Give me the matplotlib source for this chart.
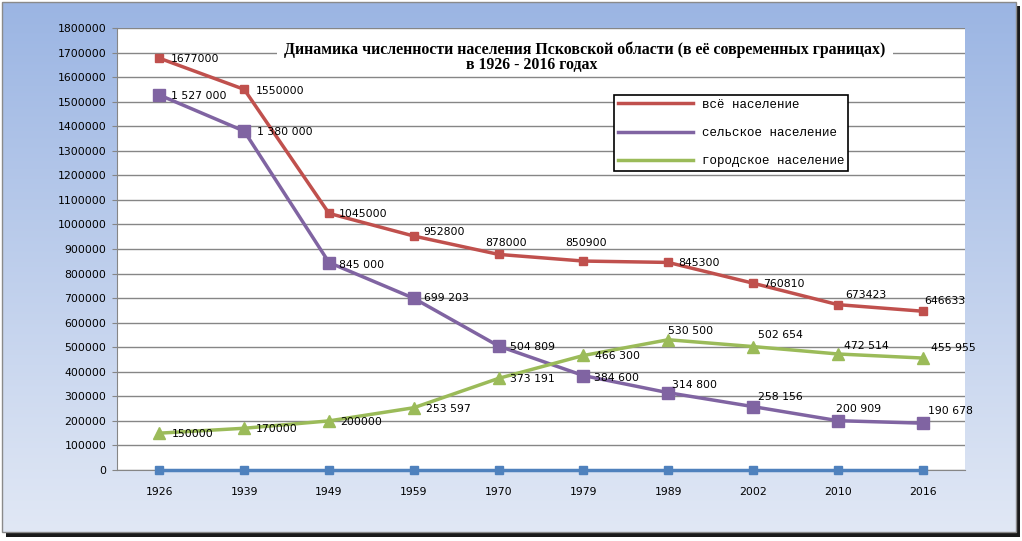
import matplotlib
matplotlib.use("Agg")
import matplotlib.pyplot as plt
import numpy as np
from matplotlib.patches import Rectangle

years = ["1926", "1939", "1949", "1959", "1970", "1979", "1989", "2002", "2010", "2016"]
total = [1677000, 1550000, 1045000, 952800, 878000, 850900, 845300, 760810, 673423, 646633]
rural = [1527000, 1380000, 845000, 699203, 504809, 384600, 314800, 258156, 200909, 190678]
urban = [150000, 170000, 200000, 253597, 373191, 466300, 530500, 502654, 472514, 455955]
zero_series = [0, 0, 0, 0, 0, 0, 0, 0, 0, 0]

total_labels = ["1677000", "1550000", "1045000", "952800", "878000", "850900", "845300", "760810", "673423", "646633"]
rural_labels = ["1 527 000", "1 380 000", "845 000", "699 203", "504 809", "384 600", "314 800", "258 156", "200 909", "190 678"]
urban_labels = ["150000", "170000", "200000", "253 597", "373 191", "466 300", "530 500", "502 654", "472 514", "455 955"]

legend_names = ["всё население", "сельское население", "городское население"]
title1 = "Динамика численности населения Псковской области (в её современных границах)"
title2 = "в 1926 - 2016 годах"

# label offsets (pixels) - layout only
total_off = [(11, -1), (12, -2), (10, -1), (10, 4), (-13, 11), (-18, 18), (10, -1), (10, -1), (7, 10), (2, 10)]
rural_off = [(12, -1), (13, -1), (10, -2), (10, 0), (11, -1), (11, -2), (4, 8), (5, 10), (-2, 12), (5, 12)]
urban_off = [(12, -1), (12, -1), (11, -1), (12, -1), (11, -1), (12, -1), (0, 9), (5, 12), (6, 8), (8, 10)]

W, H = 1022, 541
fig = plt.figure(figsize=(W / 100, H / 100), dpi=100)
fig.patch.set_facecolor("white")

# background frame with gradient
bg = fig.add_axes([0, 0, 1, 1], zorder=0)
bg.set_xlim(0, W)
bg.set_ylim(H, 0)
bg.axis("off")
bg.add_patch(Rectangle((6, 6), 1014, 531, facecolor="#1a1a1a", edgecolor="none"))
grad = np.linspace(0, 1, 256).reshape(-1, 1)
top = np.array([0x9b, 0xb5, 0xe3]) / 255
bot = np.array([0xe1, 0xe8, 0xf5]) / 255
img = top[None, None, :] * (1 - grad[:, :, None]) + bot[None, None, :] * grad[:, :, None]
bg.imshow(img, extent=[2, 1016, 532, 2], aspect="auto", zorder=1)
bg.add_patch(Rectangle((2, 2), 1014, 530, facecolor="none", edgecolor="#8a8a8a", lw=1, zorder=2))

ax = fig.add_axes([117 / W, 1 - 470 / H, (965 - 117) / W, (470 - 28) / H], zorder=2)
ax.set_facecolor("white")
x = np.arange(len(years))
ax.set_xlim(-0.5, len(years) - 0.5)
ax.set_ylim(0, 1800000)
ax.set_yticks(np.arange(0, 1800001, 100000))
ax.set_yticklabels([str(v) for v in range(0, 1800001, 100000)], fontsize=7.8, family="DejaVu Sans")
ax.set_xticks(x)
ax.set_xticklabels(years, fontsize=7.8, family="DejaVu Sans")
ax.tick_params(axis="x", length=0, pad=12)
ax.tick_params(axis="y", length=3.6, color="#868686", pad=4)
ax.grid(axis="y", color="#868686", lw=1)
ax.set_axisbelow(True)
for s in ["top", "right"]:
    ax.spines[s].set_visible(False)
ax.spines["left"].set_color("#868686")
ax.spines["bottom"].set_color("#868686")

red = "#c0504d"
purple = "#8064a2"
green = "#9bbb59"
blue = "#4f81bd"

l_tot, = ax.plot(x, total, color=red, lw=2.5, marker="s", ms=6, zorder=4)
l_rur, = ax.plot(x, rural, color=purple, lw=2.5, marker="s", ms=8, zorder=4)
l_urb, = ax.plot(x, urban, color=green, lw=2.5, marker="^", ms=8, zorder=4)
ax.plot(x, zero_series, color=blue, lw=2.5, marker="s", ms=6, zorder=4, clip_on=False)

for vals, labs, offs in [(total, total_labels, total_off), (rural, rural_labels, rural_off), (urban, urban_labels, urban_off)]:
    for xi, v, lab, (dx, dy) in zip(x, vals, labs, offs):
        ax.annotate(lab, (xi, v), xytext=(dx, dy), textcoords="offset pixels",
                    ha="left", va="center", fontsize=7.8, family="DejaVu Sans", zorder=5)

# title with white background
fig.text(585 / W, 1 - 50 / H, title1, ha="center", va="center", fontsize=11.4, fontweight="bold",
         family="Liberation Serif", zorder=5,
         bbox=dict(facecolor="white", edgecolor="none", pad=5))
fig.text(532 / W, 1 - 65 / H, title2, ha="center", va="center", fontsize=11.4, fontweight="bold",
         family="Liberation Serif", zorder=5)

leg = ax.legend([l_tot, l_rur, l_urb], legend_names, loc="upper left",
                bbox_to_anchor=((614 - 117) / (965 - 117), (470 - 95) / (470 - 28)),
                prop=dict(family="Liberation Mono", size=9), frameon=True, fancybox=False,
                edgecolor="black", framealpha=1, handlelength=6.0, labelspacing=1.3,
                borderpad=0.3, handletextpad=0.75, borderaxespad=0)
for h in leg.legend_handles:
    h.set_marker("")
leg.get_frame().set_linewidth(1.2)

fig.savefig("out.png", dpi=100, facecolor="white")
